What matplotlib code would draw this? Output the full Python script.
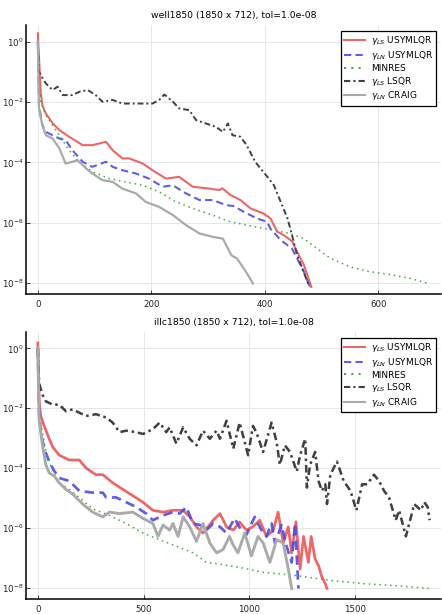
import matplotlib
matplotlib.use("Agg")
import matplotlib.pyplot as plt
import numpy as np

# ---- well1850 : iteration numbers and log10 of the error estimates ----
w_red_x = [0, 5, 8, 14, 26, 38, 55, 79, 96, 120, 132, 149, 161, 185, 202, 226, 249, 273, 302, 320, 325, 340,
           357, 375, 398, 410, 422, 434, 448, 457, 469, 477, 482]
w_red_y = [0.28, -1.66, -2.1, -2.38, -2.7, -2.93, -3.15, -3.43, -3.43, -3.32, -3.6, -3.87, -3.87, -4.04, -4.26,
           -4.54, -4.48, -4.81, -4.87, -4.92, -4.86, -5.09, -5.25, -5.53, -5.70, -5.86, -6.3, -6.42, -6.62,
           -6.97, -7.41, -7.85, -8.13]
w_blue_x = [0, 2, 8, 14, 26, 38, 49, 61, 79, 96, 120, 132, 149, 173, 196, 220, 238, 261, 285, 308, 332, 345,
            363, 386, 404, 410, 428, 448, 457, 469, 479]
w_blue_y = [0.0, -2.1, -2.77, -2.99, -3.1, -3.21, -3.26, -3.6, -3.98, -4.15, -3.98, -4.15, -4.26, -4.37,
            -4.54, -4.81, -4.76, -5.03, -5.25, -5.25, -5.42, -5.45, -5.64, -5.86, -5.97, -6.2, -6.58, -6.86,
            -7.19, -7.63, -8.13]
w_green_x = [0, 5, 14, 26, 38, 55, 73, 96, 126, 155, 185, 214, 243, 273, 308, 339, 355, 398, 445, 469, 492,
             516, 551, 586, 621, 657, 689]
w_green_y = [0.0, -1.99, -2.43, -2.77, -3.1, -3.6, -3.98, -4.31, -4.54, -4.65, -4.76, -4.98, -5.31, -5.53,
             -5.75, -5.97, -6.03, -6.19, -6.36, -6.53, -6.86, -7.19, -7.47, -7.63, -7.72, -7.85, -8.02]
w_lsqr_x = [0, 2, 5, 14, 26, 35, 44, 61, 73, 88, 102, 114, 132, 149, 167, 185, 202, 214, 223, 238, 249, 267,
            279, 296, 314, 326, 335, 343, 357, 368, 383, 395, 407, 416, 428, 440, 448, 457, 466, 475, 480]
w_lsqr_y = [0.0, -1.0, -1.1, -1.38, -1.6, -1.49, -1.77, -1.77, -1.66, -1.6, -1.77, -1.99, -1.93, -2.05, -2.05,
            -2.05, -2.05, -1.93, -1.75, -1.99, -2.21, -2.27, -2.6, -2.71, -2.82, -2.99, -2.71, -3.1, -3.15,
            -3.43, -3.98, -4.26, -4.54, -4.76, -5.31, -5.86, -6.42, -7.08, -7.52, -7.96, -8.13]
w_craig_x = [0, 2, 8, 14, 26, 38, 49, 61, 70, 85, 96, 114, 132, 149, 173, 190, 214, 238, 261, 285, 308, 326,
             341, 351, 363, 374, 379]
w_craig_y = [0.0, -2.21, -2.77, -3.1, -3.21, -3.54, -4.04, -3.98, -3.93, -4.2, -4.37, -4.59, -4.65, -4.87,
             -5.03, -5.31, -5.48, -5.75, -6.08, -6.36, -6.47, -6.53, -7.08, -7.19, -7.52, -7.85, -8.02]

# ---- illc1850 ----
i_red_x = [0, 6, 14, 30, 54, 70, 101, 149, 196, 228, 275, 307, 354, 402, 449, 497, 544, 592, 639, 687, 718,
           750, 781, 829, 861, 892, 924, 954, 986, 1017, 1049, 1081, 1113, 1136, 1160, 1184, 1200, 1220, 1240,
           1256, 1279, 1292, 1311, 1327, 1343, 1359, 1367]
i_red_y = [0.18, -1.72, -2.26, -2.59, -3.02, -3.29, -3.57, -3.73, -3.73, -4.0, -4.22, -4.22, -4.49, -4.71,
           -4.92, -5.14, -5.41, -5.47, -5.41, -5.41, -5.63, -5.96, -6.17, -5.74, -5.52, -5.96, -6.07, -5.80,
           -6.07, -5.96, -5.74, -6.28, -6.07, -5.47, -6.5, -5.96, -6.83, -5.79, -7.37, -6.28, -7.15, -6.28,
           -7.04, -7.26, -7.64, -7.86, -8.02]
i_blue_x = [0, 6, 14, 30, 54, 78, 101, 149, 196, 259, 307, 323, 370, 418, 465, 513, 544, 592, 639, 671, 702,
            734, 766, 797, 829, 861, 892, 930, 962, 986, 1025, 1057, 1081, 1105, 1121, 1152, 1176, 1200, 1216,
            1232]
i_blue_y = [0.0, -2.15, -2.8, -3.35, -3.78, -4.1, -4.33, -4.43, -4.76, -4.82, -4.82, -4.98, -4.98, -5.14, -5.3,
            -5.52, -5.74, -5.58, -5.47, -5.52, -5.3, -5.85, -5.9, -6.07, -5.85, -5.96, -6.17, -5.68, -6.07,
            -6.23, -5.63, -6.07, -6.28, -5.85, -6.5, -5.9, -6.61, -7.15, -5.85, -8.02]
i_green_x = [0, 6, 22, 38, 70, 101, 149, 196, 259, 339, 418, 497, 576, 655, 734, 797, 861, 956, 1065, 1224,
             1383, 1542, 1701, 1851]
i_green_y = [0.0, -2.15, -2.8, -3.46, -4.11, -4.49, -4.71, -4.98, -5.36, -5.58, -5.85, -6.17, -6.39, -6.61,
             -6.83, -7.15, -7.21, -7.32, -7.48, -7.59, -7.75, -7.86, -7.93, -8.02]
i_lsqr_x = [0, 6, 22, 38, 70, 101, 133, 165, 196, 228, 275, 323, 354, 386, 418, 465, 497, 544, 576, 607, 623,
            655, 687, 718, 750, 781, 813, 845, 861, 892, 924, 954, 978, 994, 1017, 1033, 1065, 1105, 1129, 1144,
            1168, 1192, 1224, 1240, 1264, 1272, 1287, 1311, 1327, 1343, 1359, 1367, 1383, 1414, 1446, 1478,
            1506, 1533, 1557, 1589, 1613, 1637, 1660, 1692, 1708, 1740, 1764, 1779, 1811, 1827, 1843, 1852]
i_lsqr_y = [0.0, -1.17, -1.55, -1.77, -1.88, -1.88, -2.1, -2.04, -2.15, -2.26, -2.2, -2.31, -2.48, -2.8,
            -2.75, -2.8, -2.86, -2.7, -2.48, -2.8, -2.64, -3.18, -2.64, -3.02, -3.24, -2.75, -3.02, -2.75, -3.02,
            -2.42, -3.35, -2.48, -3.13, -3.57, -2.59, -2.8, -3.46, -2.48, -3.13, -3.89, -3.24, -3.46, -4.11,
            -3.57, -3.02, -4.65, -3.89, -3.46, -4.43, -4.76, -4.54, -5.2, -4.22, -3.78, -4.43, -4.76, -5.41,
            -4.54, -4.54, -4.22, -4.43, -4.76, -4.98, -5.74, -5.41, -6.28, -5.63, -5.2, -5.41, -5.14, -5.3,
            -5.74]
i_craig_x = [0, 6, 22, 38, 54, 78, 101, 133, 165, 212, 259, 307, 339, 386, 449, 497, 544, 568, 592, 623, 639,
             663, 687, 718, 750, 781, 813, 845, 876, 906, 922, 946, 978, 1010, 1041, 1065, 1097, 1129, 1160,
             1184, 1200]
i_craig_y = [0.0, -2.37, -3.24, -3.89, -4.16, -4.27, -4.49, -4.71, -4.87, -5.2, -5.47, -5.63, -5.47, -5.52,
             -5.47, -5.68, -5.85, -6.28, -5.9, -6.07, -5.85, -6.28, -5.63, -5.96, -6.45, -5.85, -6.5, -6.83,
             -6.72, -6.28, -6.55, -6.83, -6.17, -6.93, -6.28, -6.5, -7.15, -6.39, -6.5, -7.37, -8.02]

titles = ["well1850 (1850 x 712), tol=1.0e-08", "illc1850 (1850 x 712), tol=1.0e-08"]
labels = [r"$\gamma_{LS}$ USYMLQR", r"$\gamma_{LN}$ USYMLQR", "MINRES",
          r"$\gamma_{LS}$ LSQR", r"$\gamma_{LN}$ CRAIG"]
xticks_list = [[0, 200, 400, 600], [0, 500, 1000, 1500]]
xlims = [(-20.7, 710.7), (-55.5, 1906.5)]

panels = [
    [(w_red_x, w_red_y), (w_blue_x, w_blue_y), (w_green_x, w_green_y), (w_lsqr_x, w_lsqr_y),
     (w_craig_x, w_craig_y)],
    [(i_red_x, i_red_y), (i_blue_x, i_blue_y), (i_green_x, i_green_y), (i_lsqr_x, i_lsqr_y),
     (i_craig_x, i_craig_y)],
]

styles = [
    dict(color="#ee5555", ls="-", lw=1.5, alpha=0.9),
    dict(color="#4d4de6", ls=(0, (3.5, 2)), lw=1.5, alpha=0.9),
    dict(color="#44aa44", ls=(0, (1, 2.5)), lw=1.1),
    dict(color="#404040", ls=(0, (3, 1.5, 1, 1.5)), lw=1.4),
    dict(color="#aaaaaa", ls="-", lw=1.6),
]
# the illc1850 curves are noisier, drawn a bit thicker
lw_scale = [1.0, 1.3]

fig = plt.figure(figsize=(4.42, 6.14), dpi=100)
rects = [[0.059, 0.521, 0.939, 0.438], [0.059, 0.0245, 0.939, 0.435]]

for k in range(2):
    ax = fig.add_axes(rects[k])
    for j, ((xs, ys), st, lab) in enumerate(zip(panels[k], styles, labels)):
        st = dict(st)
        if j != 2:
            st["lw"] = st["lw"] * lw_scale[k]
        ax.plot(xs, 10.0 ** np.array(ys), label=lab, **st)
    ax.set_yscale("log")
    ax.set_ylim(10 ** -8.37, 10 ** 0.55)
    ax.set_xlim(*xlims[k])
    ax.set_yticks([1e0, 1e-2, 1e-4, 1e-6, 1e-8])
    ax.yaxis.set_minor_locator(matplotlib.ticker.NullLocator())
    ax.set_xticks(xticks_list[k])
    ax.grid(True, color="#e6e6e6", lw=0.7)
    ax.set_axisbelow(True)
    for s in ["top", "right"]:
        ax.spines[s].set_visible(False)
    for s in ["left", "bottom"]:
        ax.spines[s].set_linewidth(1.1)
    ax.tick_params(direction="in", length=3, width=0.6, labelsize=6.2, colors="#222222")
    ax.tick_params(axis="y", pad=2)
    ax.tick_params(axis="x", pad=4)
    ax.set_title(titles[k], fontsize=6.7, pad=5)
    leg = ax.legend(loc="upper right", fontsize=6.5, fancybox=False, framealpha=1,
                    handlelength=2.3, handletextpad=0.6, borderpad=0.35, labelspacing=0.2,
                    borderaxespad=0, bbox_to_anchor=(0.988, 0.978))
    for line in leg.get_lines():
        line.set_linewidth(1.5)
    leg.get_frame().set_edgecolor("black")
    leg.get_frame().set_linewidth(0.9)

fig.savefig("out.png", dpi=100)
